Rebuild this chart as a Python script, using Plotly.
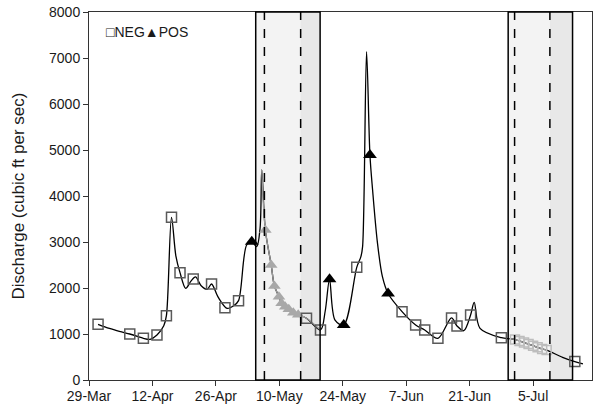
import plotly.graph_objects as go
import pandas as pd

# ---- data ----
line_dates = [
    "2013-03-31 00:00", "2013-04-02 12:00", "2013-04-05 00:00", "2013-04-07 00:00", "2013-04-09 00:00",
    "2013-04-10 00:00", "2013-04-11 12:00", "2013-04-13 00:00", "2013-04-14 12:00", "2013-04-15 02:00",
    "2013-04-16 05:00", "2013-04-17 04:00", "2013-04-18 02:00", "2013-04-19 08:00", "2013-04-20 12:00",
    "2013-04-21 12:00", "2013-04-22 18:00", "2013-04-24 02:00", "2013-04-25 01:00", "2013-04-26 12:00",
    "2013-04-28 11:00", "2013-04-30 00:00", "2013-05-01 00:00", "2013-05-02 19:00", "2013-05-03 22:00",
    "2013-05-05 00:00", "2013-05-05 18:00", "2013-05-06 03:00", "2013-05-06 22:00", "2013-05-08 05:00",
    "2013-05-08 22:00", "2013-05-09 22:00", "2013-05-10 12:00", "2013-05-11 07:00", "2013-05-12 02:00",
    "2013-05-13 02:00", "2013-05-14 04:00", "2013-05-16 00:00", "2013-05-19 02:00", "2013-05-20 03:00",
    "2013-05-21 02:00", "2013-05-22 07:00", "2013-05-24 05:00", "2013-05-27 02:00", "2013-05-28 00:00",
    "2013-05-28 09:00", "2013-05-29 06:00", "2013-05-30 00:00", "2013-05-30 14:00", "2013-05-31 16:00",
    "2013-06-01 18:00", "2013-06-03 00:00", "2013-06-06 02:00", "2013-06-09 02:00", "2013-06-11 02:00",
    "2013-06-14 00:00", "2013-06-17 00:00", "2013-06-18 05:00", "2013-06-19 17:00", "2013-06-21 05:00",
    "2013-06-22 00:00", "2013-06-23 07:00", "2013-06-28 00:00", "2013-06-30 00:00", "2013-07-01 00:00",
    "2013-07-02 00:00", "2013-07-03 00:00", "2013-07-04 00:00", "2013-07-05 00:00", "2013-07-06 00:00",
    "2013-07-07 00:00", "2013-07-08 00:00", "2013-07-11 12:00", "2013-07-14 05:00", "2013-07-16 00:00",
]
line_values = [
    1211, 1120, 1050, 1000, 940,
    906, 885, 978, 1180, 1398,
    3536, 2700, 2333, 1993, 2150,
    2240, 2050, 1971, 2087, 1800,
    1558, 1620, 1725, 2935, 3007,
    2900, 3300, 4565, 3261, 2500,
    2043, 1812, 1667, 1594, 1536,
    1464, 1420, 1341, 1087, 1500,
    2189, 1300, 1196, 2449, 2681,
    2900, 7138, 4891, 4130, 2971,
    2246, 1880, 1486, 1196, 1087,
    906, 1350, 1174, 1072, 1413,
    1689, 1123, 920, 895, 880,
    850, 815, 780, 745, 710,
    675, 650, 493, 398, 348,
]

neg_dates = ["2013-03-31 00:00", "2013-04-07 00:00", "2013-04-10 00:00", "2013-04-13 00:00", "2013-04-15 02:00",
             "2013-04-16 05:00", "2013-04-18 02:00", "2013-04-21 00:00", "2013-04-25 01:00", "2013-04-28 00:00",
             "2013-05-01 00:00", "2013-05-16 00:00", "2013-05-19 02:00", "2013-05-27 02:00", "2013-06-06 02:00",
             "2013-06-09 02:00", "2013-06-11 02:00", "2013-06-14 00:00", "2013-06-17 00:00", "2013-06-18 05:00",
             "2013-06-21 05:00", "2013-06-28 00:00", "2013-07-14 05:00"]
neg_values = [1211, 1000, 906, 978, 1398,
              3536, 2333, 2195, 2087, 1572,
              1725, 1341, 1087, 2449, 1486,
              1196, 1087, 906, 1350, 1174,
              1413, 920, 400]

pos_dates = ["2013-05-03 22:00", "2013-05-21 02:00", "2013-05-24 05:00", "2013-05-30 00:00", "2013-06-03 00:00"]
pos_values = [3007, 2189, 1196, 4891, 1880]

pos_faded_dates = ["2013-05-06 22:00", "2013-05-08 05:00", "2013-05-08 22:00", "2013-05-09 22:00",
                   "2013-05-10 12:00", "2013-05-11 07:00", "2013-05-12 02:00", "2013-05-13 02:00",
                   "2013-05-14 04:00"]
pos_faded_values = [3261, 2500, 2043, 1812, 1667, 1594, 1536, 1464, 1420]

neg_faded_dates = ["2013-07-01 00:00", "2013-07-02 00:00", "2013-07-03 00:00", "2013-07-04 00:00",
                   "2013-07-05 00:00", "2013-07-06 00:00", "2013-07-07 00:00", "2013-07-08 00:00"]
neg_faded_values = [880, 850, 815, 780, 745, 710, 675, 650]

gray_segments = [("2013-05-06 03:00", "2013-05-19 02:00"), ("2013-06-30 00:00", "2013-07-08 00:00")]

# windows: (box start, dashed 1, dashed 2, box end)
windows = [
    ("2013-05-04 19:00", "2013-05-06 17:00", "2013-05-14 17:00", "2013-05-19 00:00"),
    ("2013-06-29 12:00", "2013-06-30 22:00", "2013-07-08 17:00", "2013-07-13 17:00"),
]

tick_vals = ["2013-03-29", "2013-04-12", "2013-04-26", "2013-05-10", "2013-05-24",
             "2013-06-07", "2013-06-21", "2013-07-05"]
tick_text = ["29-Mar", "12-Apr", "26-Apr", "10-May", "24-May", "7-Jun", "21-Jun", "5-Jul"]

FONT = "Liberation Sans, Arial, sans-serif"


def to_dt(vals):
    return pd.to_datetime(vals, format="%Y-%m-%d %H:%M")


fig = go.Figure()

df = pd.DataFrame({"d": to_dt(line_dates), "v": line_values})

fig.add_trace(go.Scatter(x=df["d"], y=df["v"], mode="lines",
                         line=dict(color="black", width=1.3, shape="spline", smoothing=0.9),
                         showlegend=False, hoverinfo="skip"))
for s, e in gray_segments:
    sub = df[(df["d"] >= pd.Timestamp(s)) & (df["d"] <= pd.Timestamp(e))]
    fig.add_trace(go.Scatter(x=sub["d"], y=sub["v"], mode="lines",
                             line=dict(color="#9a9a9a", width=1.3, shape="spline", smoothing=0.9),
                             showlegend=False, hoverinfo="skip"))

fig.add_trace(go.Scatter(x=to_dt(neg_faded_dates), y=neg_faded_values, mode="markers",
                         marker=dict(symbol="square-open", size=9, color="#bdbdbd", line=dict(width=1.5)),
                         showlegend=False))
fig.add_trace(go.Scatter(x=to_dt(pos_faded_dates), y=pos_faded_values, mode="markers",
                         marker=dict(symbol="triangle-up", size=11, color="#a8a8a8"),
                         showlegend=False))
fig.add_trace(go.Scatter(x=to_dt(neg_dates), y=neg_values, mode="markers", name="NEG",
                         marker=dict(symbol="square-open", size=10, color="#5a5a5a", line=dict(width=1.5)),
                         showlegend=False))
fig.add_trace(go.Scatter(x=to_dt(pos_dates), y=pos_values, mode="markers", name="POS",
                         marker=dict(symbol="triangle-up", size=12, color="black"),
                         showlegend=False))

shapes = []
for x0, d1, d2, x1 in windows:
    shapes.append(dict(type="rect", xref="x", yref="paper", x0=x0, x1=x1, y0=0, y1=1,
                       fillcolor="#f3f3f3", line=dict(width=0), layer="below"))
    shapes.append(dict(type="rect", xref="x", yref="paper", x0=d2, x1=x1, y0=0, y1=1,
                       fillcolor="#e8e8e8", line=dict(width=0), layer="below"))
    shapes.append(dict(type="rect", xref="x", yref="paper", x0=x0, x1=x1, y0=0, y1=1,
                       fillcolor="rgba(0,0,0,0)", line=dict(color="black", width=1.5), layer="above"))
    for xd in (d1, d2):
        shapes.append(dict(type="line", xref="x", yref="paper", x0=xd, x1=xd, y0=0, y1=1,
                           line=dict(color="black", width=1.5, dash="dash"), layer="above"))

fig.update_layout(
    width=600, height=408,
    margin=dict(l=89, r=8, t=12, b=28),
    paper_bgcolor="white", plot_bgcolor="white",
    font=dict(family=FONT, size=14, color="#1a1a1a"),
    shapes=shapes,
    annotations=[dict(text="□NEG▲POS", xref="paper", yref="paper", x=0.03, y=0.945,
                      xanchor="left", yanchor="middle", showarrow=False,
                      font=dict(family=FONT, size=14, color="#1a1a1a"))],
    showlegend=False,
)
fig.update_xaxes(type="date", range=["2013-03-29", "2013-07-18"],
                 tickvals=tick_vals, ticktext=tick_text, automargin=False,
                 showline=True, linecolor="#333", linewidth=1, mirror=True,
                 ticks="outside", ticklen=5, tickcolor="#333", showgrid=False, zeroline=False,
                 tickfont=dict(size=14), ticklabelstandoff=-2)
fig.update_yaxes(range=[0, 8000], dtick=1000, showline=True, linecolor="#333", linewidth=1,
                 mirror=True, ticks="outside", ticklen=5, tickcolor="#333", showgrid=False,
                 zeroline=False, tickfont=dict(size=14), automargin=False,
                 title=dict(text="Discharge (cubic ft per sec)", font=dict(size=17), standoff=20))

fig.write_html("out.html", config={"displayModeBar": False},
               post_script="document.body.style.margin='0px';document.body.style.overflow='hidden';")
